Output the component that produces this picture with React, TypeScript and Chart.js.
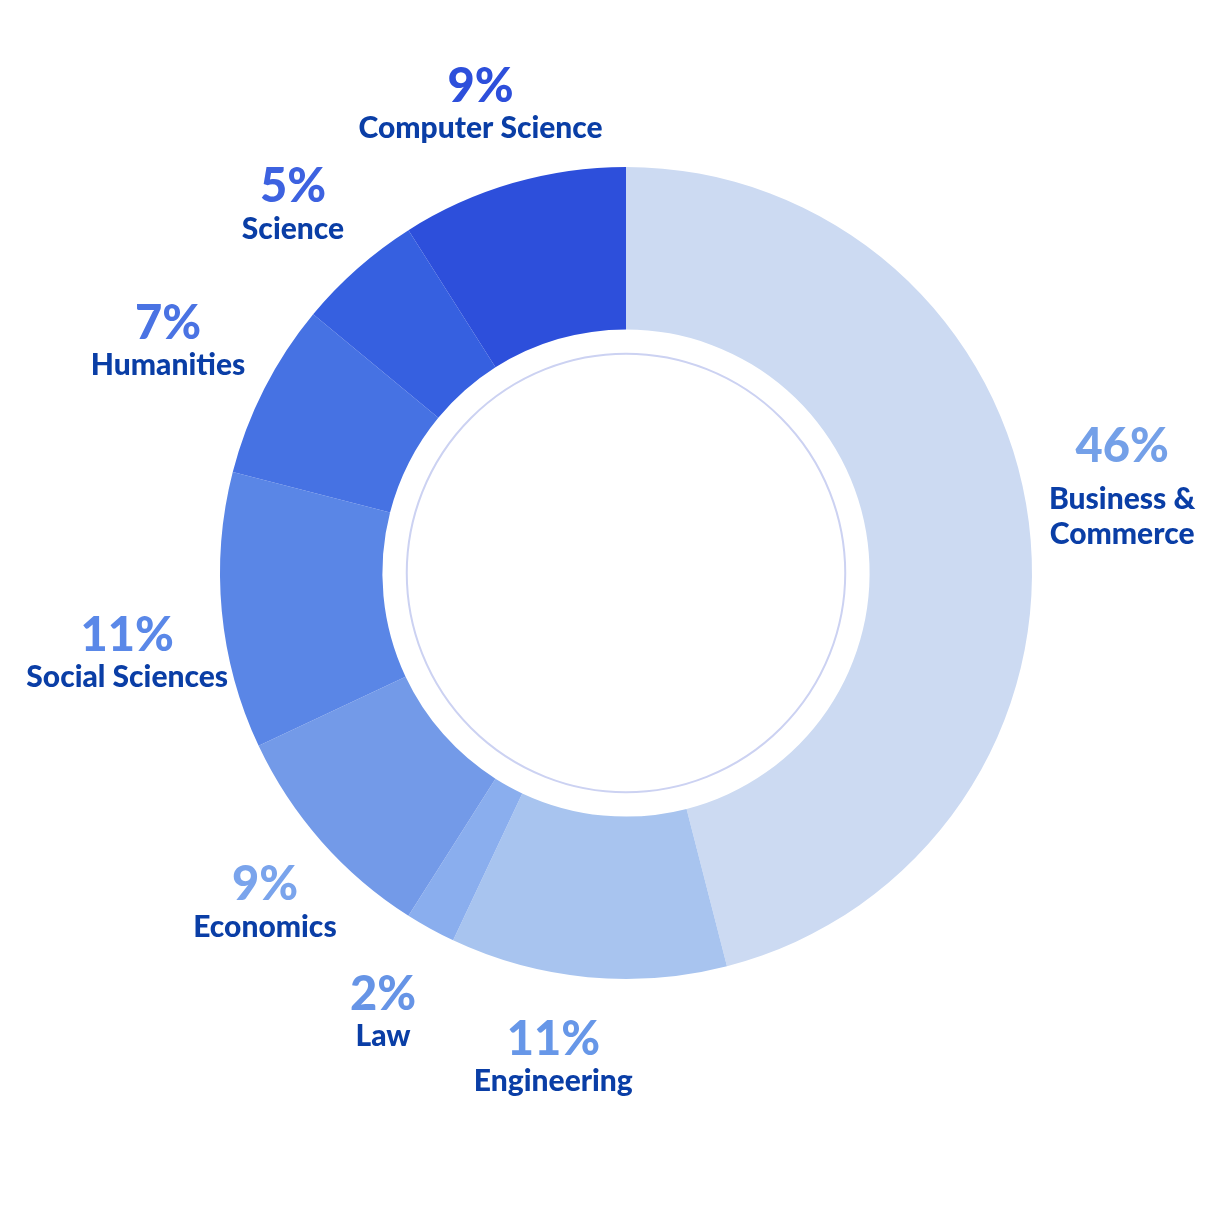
import React, { useEffect, useRef } from "react";
import { Chart, registerables } from "chart.js";

Chart.register(...registerables);

const categories = [
  "Business &\nCommerce",
  "Engineering",
  "Law",
  "Economics",
  "Social Sciences",
  "Humanities",
  "Science",
  "Computer Science",
];
const shares = [46, 11, 2, 9, 11, 7, 5, 9];
const sliceColors = ["#ccdaf2", "#a8c4ef", "#8aaeee", "#739ae8", "#5a86e6", "#4672e3", "#3660e0", "#2d4fdb"];
const percentColors = ["#74a0e8", "#6797e8", "#6694e6", "#7aa4ec", "#5a88e8", "#4a73e3", "#3d62e0", "#2d4fdb"];
const nameColor = "#0a3ea6";
// small layout nudges (px) applied to each label block after radial placement
const labelNudgeX = [4, -26, -4, 11, -5, -16, -5, -7];
const labelNudgeY = [-20, -6, 8, 5, 37, -3, 7, 11];

const labelPlugin = {
  id: "outerLabels",
  beforeDatasetsDraw(chart: any) {
    const meta = chart.getDatasetMeta(0);
    const arc = meta.data[0];
    if (!arc) return;
    const { x, y, innerRadius } = arc.getProps(["x", "y", "innerRadius"], true);
    const ctx = chart.ctx;
    ctx.save();
    ctx.beginPath();
    ctx.arc(x, y, innerRadius * 0.9, 0, Math.PI * 2);
    ctx.strokeStyle = "#ccd2f2";
    ctx.lineWidth = 2;
    ctx.stroke();
    ctx.restore();
  },
  afterDraw(chart: any) {
    const ctx = chart.ctx;
    const meta = chart.getDatasetMeta(0);
    meta.data.forEach((el: any, i: number) => {
      const { x, y, startAngle, endAngle, outerRadius } = el.getProps(
        ["x", "y", "startAngle", "endAngle", "outerRadius"],
        true
      );
      const mid = (startAngle + endAngle) / 2;
      const r = outerRadius + 90;
      const cx = x + Math.cos(mid) * r + labelNudgeX[i];
      const cy = y + Math.sin(mid) * r + labelNudgeY[i];
      const lines = categories[i].split("\n");
      const gap = lines.length > 1 ? 52 : 42;
      const lineH = 35;
      const span = gap + (lines.length - 1) * lineH;
      const pctY = cy - span / 2;
      ctx.save();
      ctx.textAlign = "center";
      ctx.textBaseline = "middle";
      ctx.font = "900 47px Lato";
      ctx.fillStyle = percentColors[i];
      ctx.fillText(shares[i] + "%", cx, pctY);
      ctx.font = "900 30px Lato";
      ctx.fillStyle = nameColor;
      lines.forEach((ln, j) => {
        ctx.fillText(ln, cx, pctY + gap + lineH * j);
      });
      ctx.restore();
    });
  },
};

export default function App() {
  const ref = useRef<HTMLCanvasElement>(null);
  useEffect(() => {
    if (!ref.current) return;
    const chart = new Chart(ref.current, {
      type: "doughnut",
      data: {
        labels: categories.map((c) => c.replace("\n", " ")),
        datasets: [
          {
            data: shares,
            backgroundColor: sliceColors,
            borderWidth: 0,
          },
        ],
      },
      options: {
        responsive: false,
        animation: false,
        cutout: "60%",
        layout: { padding: { left: 220, right: 185, top: 167, bottom: 238 } },
        plugins: {
          legend: { display: false },
          tooltip: { enabled: false },
        },
      },
      plugins: [labelPlugin],
    });
    return () => chart.destroy();
  }, []);
  return (
    <div style={{ position: "absolute", left: 0, top: 0, width: 1217, height: 1217, background: "#fff" }}>
      <canvas ref={ref} width={1217} height={1217} style={{ width: 1217, height: 1217, display: "block" }} />
    </div>
  );
}
